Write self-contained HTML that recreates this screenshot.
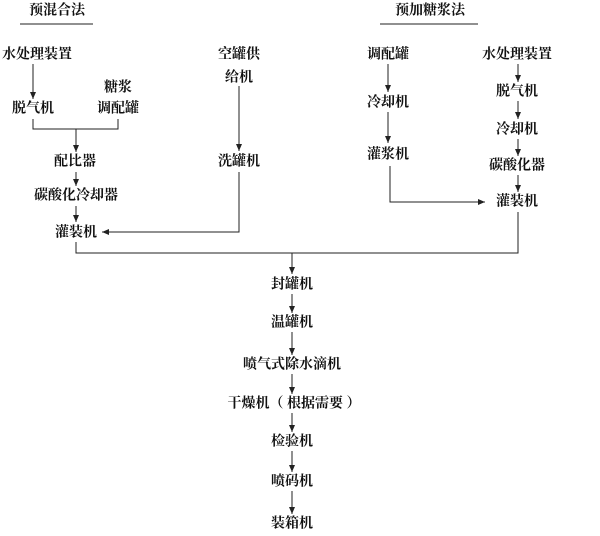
<!DOCTYPE html>
<html><head><meta charset="utf-8"><style>
body{margin:0;background:#fff;}
svg{display:block}
text{font-family:"Liberation Serif","Noto Serif CJK SC",serif;font-size:14px;fill:#111;text-anchor:middle;dominant-baseline:central;font-weight:bold}
line,polyline{stroke:#222;stroke-width:1;fill:none}
</style></head><body>
<svg width="600" height="536" viewBox="0 0 600 536" xmlns="http://www.w3.org/2000/svg">
<defs><marker id="a" markerWidth="8" markerHeight="8" refX="7" refY="4" orient="auto" markerUnits="userSpaceOnUse"><path d="M0,1 L7,4 L0,7 Z" fill="#222"/></marker></defs>
<text x="57" y="11">预混合法</text>
<line x1="20" y1="24" x2="93" y2="24" stroke-width="2"/>
<text x="37" y="55">水处理装置</text>
<line x1="33" y1="64" x2="33" y2="99" marker-end="url(#a)"/>
<text x="33" y="109">脱气机</text>
<text x="118" y="88">糖浆</text>
<text x="118" y="109">调配罐</text>
<polyline points="33,119 33,129 118,129 118,119"/>
<line x1="76" y1="129" x2="76" y2="152" marker-end="url(#a)"/>
<text x="75" y="162">配比器</text>
<line x1="76" y1="172" x2="76" y2="186" marker-end="url(#a)"/>
<text x="76" y="196">碳酸化冷却器</text>
<line x1="76" y1="206" x2="76" y2="222" marker-end="url(#a)"/>
<text x="76" y="233">灌装机</text>
<text x="239" y="55">空罐供</text>
<text x="239" y="78">给机</text>
<line x1="239" y1="86" x2="239" y2="151" marker-end="url(#a)"/>
<text x="239" y="162">洗罐机</text>
<polyline points="239,172 239,232 102,232" marker-end="url(#a)"/>
<text x="430" y="11">预加糖浆法</text>
<line x1="380" y1="24" x2="478" y2="24" stroke-width="2"/>
<text x="388" y="55">调配罐</text>
<line x1="388" y1="64" x2="388" y2="92" marker-end="url(#a)"/>
<text x="388" y="103">冷却机</text>
<line x1="388" y1="112" x2="388" y2="143" marker-end="url(#a)"/>
<text x="388" y="155">灌浆机</text>
<polyline points="390,166 390,202 485,202" marker-end="url(#a)"/>
<text x="517" y="55">水处理装置</text>
<line x1="518" y1="64" x2="518" y2="82" marker-end="url(#a)"/>
<text x="517" y="92">脱气机</text>
<line x1="518" y1="101" x2="518" y2="119" marker-end="url(#a)"/>
<text x="517" y="130">冷却机</text>
<line x1="518" y1="139" x2="518" y2="156" marker-end="url(#a)"/>
<text x="517" y="166">碳酸化器</text>
<line x1="518" y1="175" x2="518" y2="192" marker-end="url(#a)"/>
<text x="517" y="202">灌装机</text>
<polyline points="76,242 76,253 518,253 518,212"/>
<line x1="292" y1="253" x2="292" y2="274" marker-end="url(#a)"/>
<text x="292" y="285">封罐机</text>
<line x1="292" y1="294" x2="292" y2="313" marker-end="url(#a)"/>
<text x="292" y="323">温罐机</text>
<line x1="292" y1="332" x2="292" y2="355" marker-end="url(#a)"/>
<text x="292" y="365">喷气式除水滴机</text>
<line x1="292" y1="374" x2="292" y2="394" marker-end="url(#a)"/>
<text x="294" y="404" xml:space="preserve">干燥机（ 根据需要 ）</text>
<line x1="292" y1="413" x2="292" y2="432" marker-end="url(#a)"/>
<text x="292" y="442">检验机</text>
<line x1="292" y1="451" x2="292" y2="472" marker-end="url(#a)"/>
<text x="292" y="482">喷码机</text>
<line x1="292" y1="491" x2="292" y2="514" marker-end="url(#a)"/>
<text x="292" y="524">装箱机</text>
</svg>
</body></html>
